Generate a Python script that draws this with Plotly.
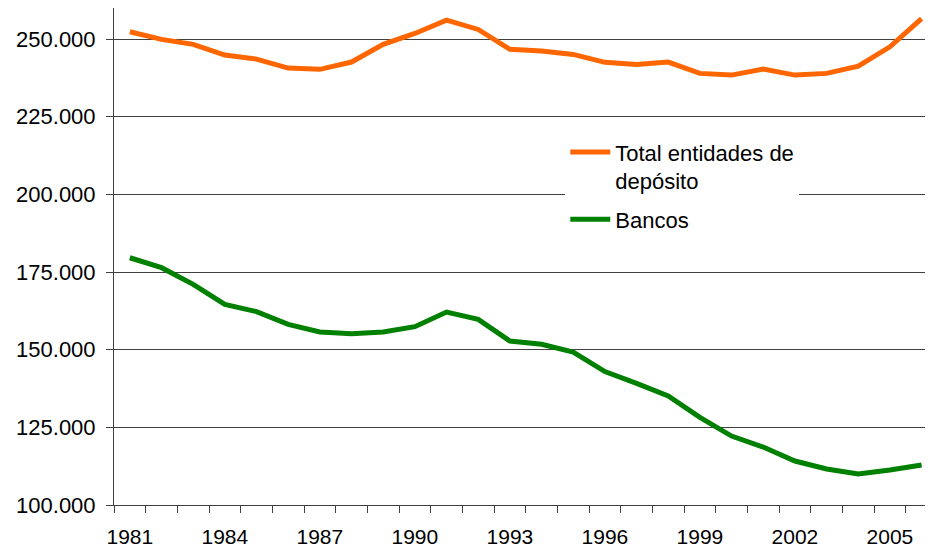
import plotly.graph_objects as go

years = list(range(1981, 2007))
total_entidades = [252350, 249900, 248300, 244850, 243550, 240650, 240250, 242600, 248300,
                   251800, 256100, 253100, 246700, 246150, 245050, 242500, 241850, 242600,
                   238950, 238400, 240350, 238400, 238950, 241300, 247500, 256600]
bancos = [179600, 176400, 171050, 164600, 162250, 158150, 155700, 155150, 155700,
          157400, 162100, 159750, 152800, 151750, 149200, 142950, 139150, 135100,
          128200, 122200, 118650, 114150, 111600, 109950, 111250, 112900]

y_tickvals = [100000, 125000, 150000, 175000, 200000, 225000, 250000]
y_ticktext = ["100.000", "125.000", "150.000", "175.000", "200.000", "225.000", "250.000"]
x_tickvals = [1981, 1984, 1987, 1990, 1993, 1996, 1999, 2002, 2005]
x_ticktext = [str(v) for v in x_tickvals]

names = ["Total entidades de<br>depósito", "Bancos"]
colors = ["#FF6600", "#008000"]

fig = go.Figure()
fig.add_trace(go.Scatter(x=years, y=total_entidades, mode="lines", name=names[0],
                         legendgroup="a",
                         line=dict(color=colors[0], width=5)))
fig.add_trace(go.Scatter(x=years, y=bancos, mode="lines", name=names[1],
                         legendgroup="b",
                         line=dict(color=colors[1], width=5)))

grid = "#404040"
fig.update_layout(
    width=925, height=542,
    margin=dict(l=106, r=0, t=0, b=45),
    paper_bgcolor="white", plot_bgcolor="white",
    font=dict(family="Liberation Sans, Arial, sans-serif", color="black", size=22),
    showlegend=True,
    legend=dict(
        x=0.551, y=0.752, xanchor="left", yanchor="top",
        bgcolor="white", borderwidth=0,
        font=dict(size=22, color="black"),
        valign="top", traceorder="grouped", tracegroupgap=7, itemwidth=40,
    ),
    xaxis=dict(
        range=[1980.5, 2006.36],
        tickmode="array", tickvals=x_tickvals, ticktext=x_ticktext,
        ticks="outside", ticklen=7, tickcolor="rgba(0,0,0,0)",
        ticklabelstandoff=6,
        tickfont=dict(size=21),
        showgrid=False, zeroline=False,
        showline=True, linecolor=grid, linewidth=1,
        minor=dict(tickmode="linear", tick0=1980.5, dtick=1, ticks="outside",
                   ticklen=7, tickcolor=grid, tickwidth=1, showgrid=False),
    ),
    yaxis=dict(
        range=[100000, 260000],
        tickmode="array", tickvals=y_tickvals, ticktext=y_ticktext,
        ticks="outside", ticklen=7, tickcolor=grid, tickwidth=1,
        ticklabelstandoff=6,
        tickfont=dict(size=22),
        showgrid=True, gridcolor=grid, gridwidth=1,
        zeroline=False,
        showline=True, linecolor=grid, linewidth=1,
    ),
)

fig.write_html("out.html")
